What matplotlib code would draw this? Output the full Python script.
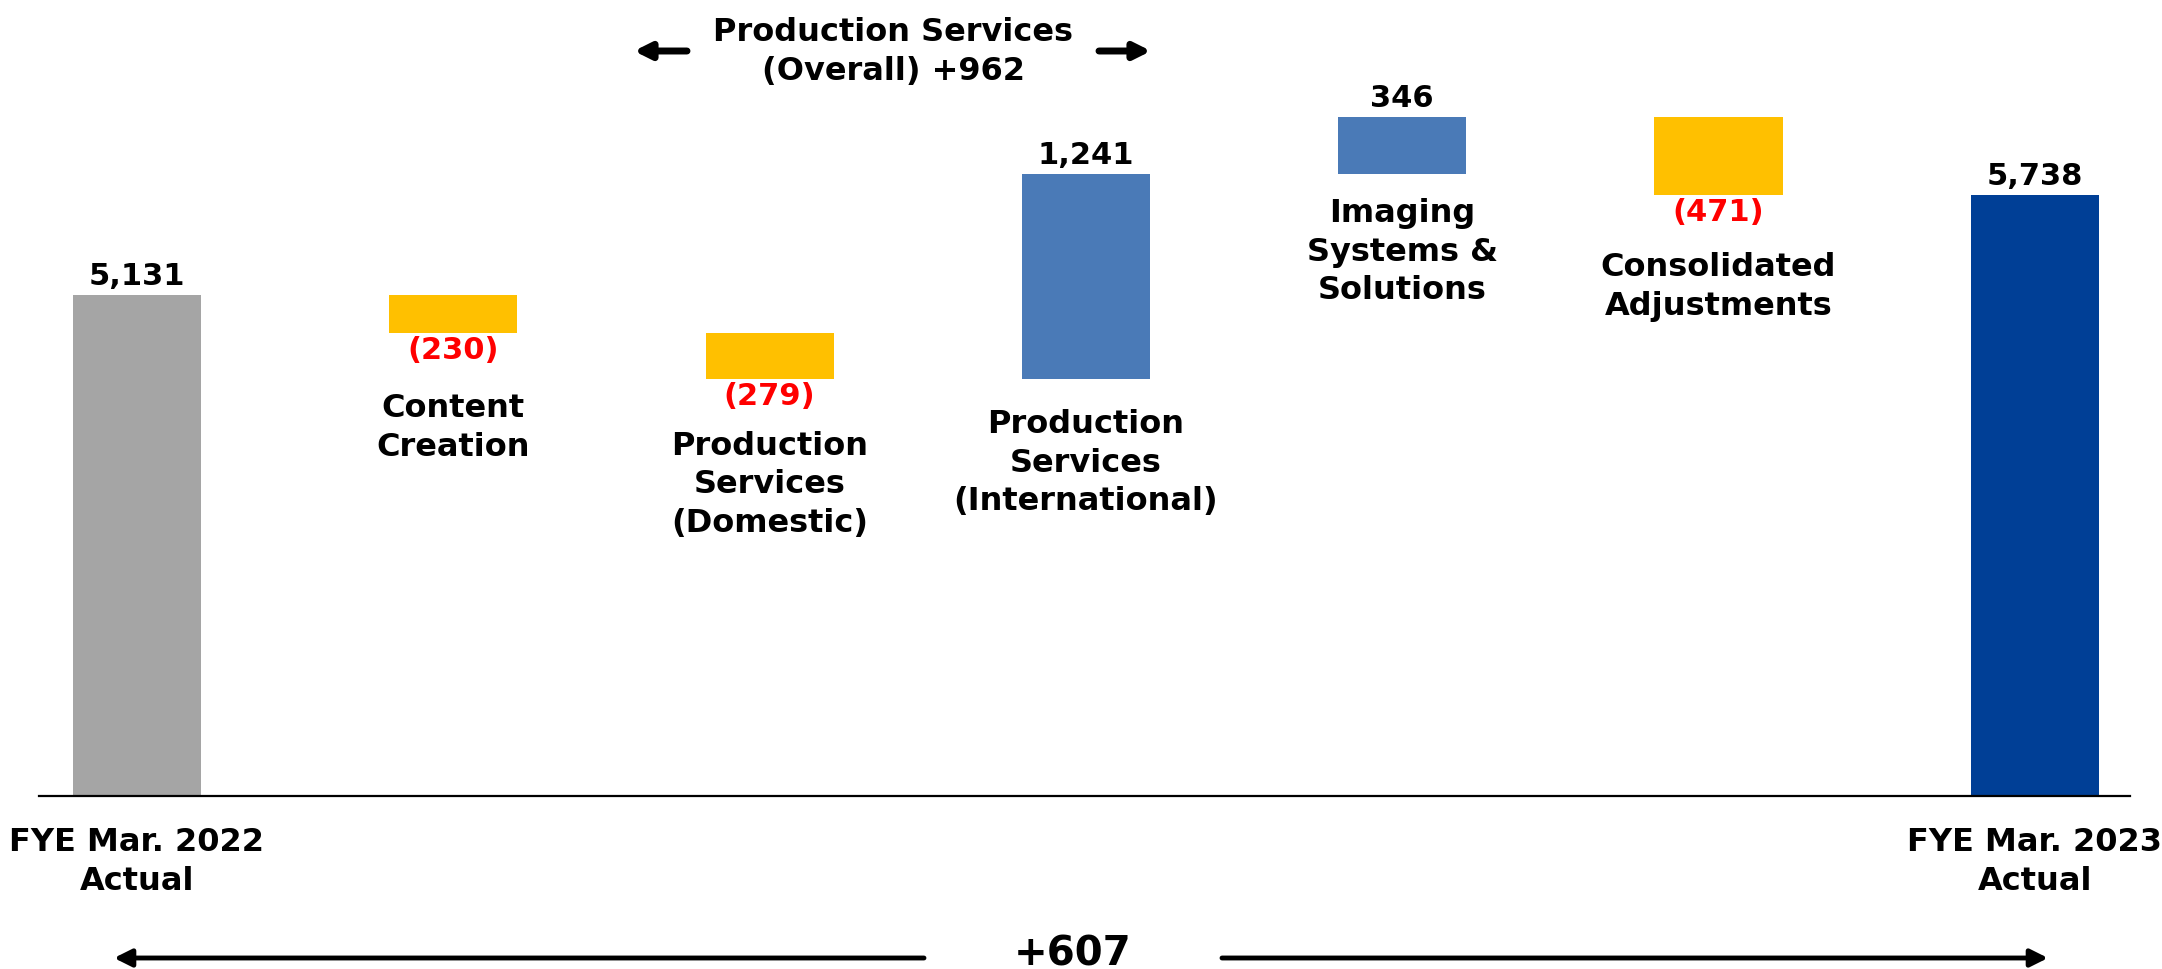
import numpy as np
import matplotlib
matplotlib.use('Agg')
import matplotlib.pyplot as plt

# Data
labels = ['FYE Mar. 2022\nActual', 'Content\nCreation', 'Production\nServices\n(Domestic)',
          'Production\nServices\n(International)', 'Imaging\nSystems &\nSolutions',
          'Consolidated\nAdjustments', 'FYE Mar. 2023\nActual']
start_value = 5131
deltas = [-230, -279, 1241, 346, -471]
end_value = 5738
value_text = ['5,131', '(230)', '(279)', '1,241', '346', '(471)', '5,738']
overall_ps = '+962'
total_change = '+607'

W, H = 2162, 969
axis_floor = 2089  # value axis is cut, totals start here

fig = plt.figure(figsize=(W/100, H/100), dpi=100)
ax = fig.add_axes([0, 0, 1, 1])
ax.set_xlim(-0.433, 6.402)
ax.set_ylim(1039, 6922)
ax.axis('off')

def fx(px):
    return px / W

def fy(py):
    return 1 - py / H

# Waterfall geometry
level = np.concatenate([[start_value], start_value + np.cumsum(deltas)])
bottoms = [axis_floor]
heights = [start_value - axis_floor]
for i, d in enumerate(deltas):
    bottoms.append(min(level[i], level[i+1]))
    heights.append(abs(d))
bottoms.append(axis_floor)
heights.append(end_value - axis_floor)

colors = ['#A5A5A5']
for d in deltas:
    colors.append('#4A7AB7' if d > 0 else '#FFC000')
colors.append('#003F96')

x = np.arange(len(labels))
ax.bar(x, heights, bottom=bottoms, width=0.405, color=colors, zorder=2)
ax.plot([-0.31, 6.30], [axis_floor, axis_floor], color='black', lw=1.6, zorder=3)

fs_val = 22
fs_lab = 23
# value labels
for i in range(len(x)):
    top = bottoms[i] + heights[i]
    if i == 0 or i == len(x) - 1 or deltas[i-1] > 0:
        ax.annotate(value_text[i], (x[i], top), xytext=(0, 3), textcoords='offset points',
                    ha='center', va='bottom', fontsize=fs_val, fontweight='bold', color='black')
    else:
        ax.annotate(value_text[i], (x[i], bottoms[i]), xytext=(0, -2), textcoords='offset points',
                    ha='center', va='top', fontsize=fs_val, fontweight='bold', color='#FF0000')

# category labels (pixel y centres)
lab_y = [862, 428, 485, 463, 252, 287, 862]
for i in range(len(x)):
    t = ax.text(x[i], 0, labels[i], transform=ax.get_xaxis_transform(), ha='center', va='center',
                fontsize=fs_lab, fontweight='bold', linespacing=1.33)
    t.set_y(fy(lab_y[i]))

# top bracket
ax.text(fx(893), fy(52), 'Production Services\n(Overall) ' + overall_ps, transform=ax.transAxes,
        ha='center', va='center', fontsize=fs_lab, fontweight='bold', linespacing=1.33)
arr = dict(arrowstyle='-|>', lw=5, color='black', mutation_scale=24, shrinkA=0, shrinkB=0)
ax.annotate('', xy=(fx(634), fy(51)), xytext=(fx(687), fy(51)), xycoords='axes fraction',
            textcoords='axes fraction', arrowprops=arr)
ax.annotate('', xy=(fx(1151), fy(51)), xytext=(fx(1099), fy(51)), xycoords='axes fraction',
            textcoords='axes fraction', arrowprops=arr)

# bottom total arrow
arr2 = dict(arrowstyle='-|>', lw=3.5, color='black', mutation_scale=26, shrinkA=0, shrinkB=0)
ax.annotate('', xy=(fx(114), fy(958)), xytext=(fx(924), fy(958)), xycoords='axes fraction',
            textcoords='axes fraction', arrowprops=arr2)
ax.annotate('', xy=(fx(2048), fy(958)), xytext=(fx(1222), fy(958)), xycoords='axes fraction',
            textcoords='axes fraction', arrowprops=arr2)
ax.text(fx(1073), fy(954), total_change, transform=ax.transAxes, ha='center', va='center',
        fontsize=29, fontweight='bold')

fig.savefig('out.png', dpi=100)
